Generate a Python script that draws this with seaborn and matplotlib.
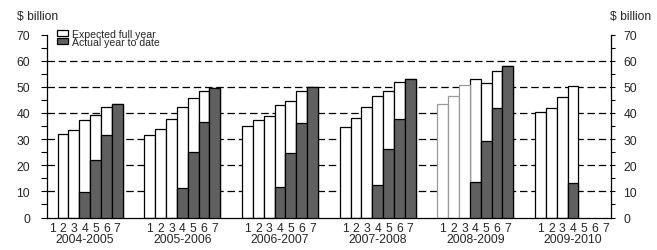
import numpy as np
import pandas as pd
import matplotlib
matplotlib.use("Agg")
import matplotlib.pyplot as plt
from matplotlib.patches import Patch
from matplotlib.transforms import blended_transform_factory
import seaborn as sns

# ---- data -------------------------------------------------------------
years = ["2004-2005", "2005-2006", "2006-2007", "2007-2008", "2008-2009", "2009-2010"]
bar_labels = ["1", "2", "3", "4", "5", "6", "7"]
nan = np.nan
expected = {
    "2004-2005": [nan, 32.0, 33.5, 37.2, 39.2, 42.3, 43.3],
    "2005-2006": [31.6, 33.9, 37.7, 42.3, 45.7, 48.3, 49.6],
    "2006-2007": [34.9, 37.2, 38.9, 43.1, 44.5, 48.3, 50.1],
    "2007-2008": [34.6, 38.1, 42.3, 46.4, 48.3, 51.8, 52.9],
    "2008-2009": [43.3, 46.6, 50.8, 52.9, 51.3, 55.9, 57.8],
    "2009-2010": [40.3, 41.7, 46.0, 50.2, nan, nan, nan],
}
actual = {
    "2004-2005": [nan, nan, nan, 9.8, 22.0, 31.6, 43.3],
    "2005-2006": [nan, nan, nan, 11.3, 25.0, 36.4, 49.6],
    "2006-2007": [nan, nan, nan, 11.6, 24.7, 36.1, 50.1],
    "2007-2008": [nan, nan, nan, 12.4, 26.1, 37.6, 52.9],
    "2008-2009": [nan, nan, nan, 13.6, 29.2, 41.9, 57.8],
    "2009-2010": [nan, nan, nan, 13.2, nan, nan, nan],
}
# bars drawn with a grey outline
grey_outline = {"2008-2009": ["1", "2", "3"]}
grid_levels = [10, 20, 30, 40, 50, 60]

# ---- build tables -----------------------------------------------------
gap = 2
rows = []
for g, yr in enumerate(years):
    for k, lab in enumerate(bar_labels):
        pos = g * (len(bar_labels) + gap) + k + 0.5
        rows.append(dict(year=yr, label=lab, pos=pos,
                         expected=expected[yr][k], actual=actual[yr][k],
                         grey=lab in grey_outline.get(yr, [])))
df = pd.DataFrame(rows)
n_slots = len(years) * len(bar_labels) + (len(years) - 1) * gap

# ---- figure -----------------------------------------------------------
sns.set_style("white")
plt.rcParams["font.family"] = ["Liberation Sans", "DejaVu Sans"]
fig = plt.figure(figsize=(6.57, 2.51), dpi=100)
rect = [46.7 / 657, 1 - 218.5 / 251, (611 - 46.7) / 657, (218.5 - 35.5) / 251]
ax = fig.add_axes(rect)

dark = "#606060"
lw = 0.9
ax.hlines(grid_levels, 0, n_slots, colors="black", linestyles=(0, (6, 3)),
          linewidth=0.9, zorder=0.5)

exp_black = df[~df.grey].dropna(subset=["expected"])
exp_grey = df[df.grey].dropna(subset=["expected"])
act = df.dropna(subset=["actual"])

sns.barplot(data=exp_black, x="pos", y="expected", native_scale=True, width=1.0,
            color="white", edgecolor="black", linewidth=lw, errorbar=None,
            saturation=1, ax=ax, zorder=2)
sns.barplot(data=exp_grey, x="pos", y="expected", native_scale=True, width=1.0,
            color="white", edgecolor="#9a9a9a", linewidth=lw, errorbar=None,
            saturation=1, ax=ax, zorder=2)
sns.barplot(data=act, x="pos", y="actual", native_scale=True, width=1.0,
            color=dark, edgecolor="black", linewidth=lw, errorbar=None,
            saturation=1, ax=ax, zorder=3)

ax.set_xlim(0, n_slots)
ax.set_ylim(0, 70)
ax.set_xlabel("")
ax.set_ylabel("")

# x ticks: bar numbers
ax.set_xticks(df["pos"].to_numpy())
ax.set_xticklabels(df["label"].tolist(), fontsize=8.7)
ax.tick_params(axis="x", length=0, pad=3)

# y ticks: left side
yt_major = np.arange(0, 71, 10)
yt_minor = np.arange(5, 70, 10)
ax.set_yticks(yt_major)
ax.set_yticks(yt_minor, minor=True)
ax.tick_params(axis="y", which="both", direction="out", left=True, right=False,
               labelleft=True, labelright=False, length=4.3, width=0.8,
               color="black", labelsize=8.7, pad=7.7)

# right side axis
ax2 = ax.twinx()
ax2.set_ylim(ax.get_ylim())
ax2.set_yticks(yt_major)
ax2.set_yticks(yt_minor, minor=True)
ax2.tick_params(axis="y", which="both", direction="out", left=False, right=True,
                labelleft=False, labelright=True, length=3.2, width=0.8,
                color="black", labelsize=8.7, pad=5.6)
for a in (ax, ax2):
    a.spines["top"].set_visible(False)
ax2.spines["left"].set_visible(False)
ax2.spines["bottom"].set_visible(False)
ax2.spines["right"].set_visible(True)
ax2.spines["right"].set_color("black")
ax2.spines["right"].set_linewidth(0.9)
ax2.grid(False)
ax.spines["right"].set_visible(False)
for side in ["left", "bottom"]:
    ax.spines[side].set_visible(True)
    ax.spines[side].set_color("black")
    ax.spines[side].set_linewidth(0.9)

# year group labels
trans = blended_transform_factory(ax.transData, ax.transAxes)
for g, yr in enumerate(years):
    sub = df[df.year == yr]
    cx = sub["pos"].mean()
    ax.annotate(yr, xy=(cx, 0), xycoords=trans, xytext=(0, -11.3),
                textcoords="offset points", ha="center", va="top", fontsize=8.7)

# unit labels
fig.text(16.7 / 657, 1 - 17.5 / 251, "$ billion", ha="left", va="center", fontsize=8.7)
fig.text(609.5 / 657, 1 - 17.5 / 251, "$ billion", ha="left", va="center", fontsize=8.7)

# legend
handles = [Patch(facecolor="white", edgecolor="black", linewidth=0.9),
           Patch(facecolor=dark, edgecolor="black", linewidth=0.9)]
fig.legend(handles, ["Expected full year", "Actual year to date"],
           loc="upper left", bbox_to_anchor=(56.7 / 657, 1 - 29.5 / 251),
           frameon=False, prop={"family": ["Liberation Sans"], "size": 7.6},
           handlelength=1.04, handleheight=0.5,
           handletextpad=0.43, labelspacing=-0.14, borderpad=0, borderaxespad=0)

fig.savefig("out.png", dpi=100)
